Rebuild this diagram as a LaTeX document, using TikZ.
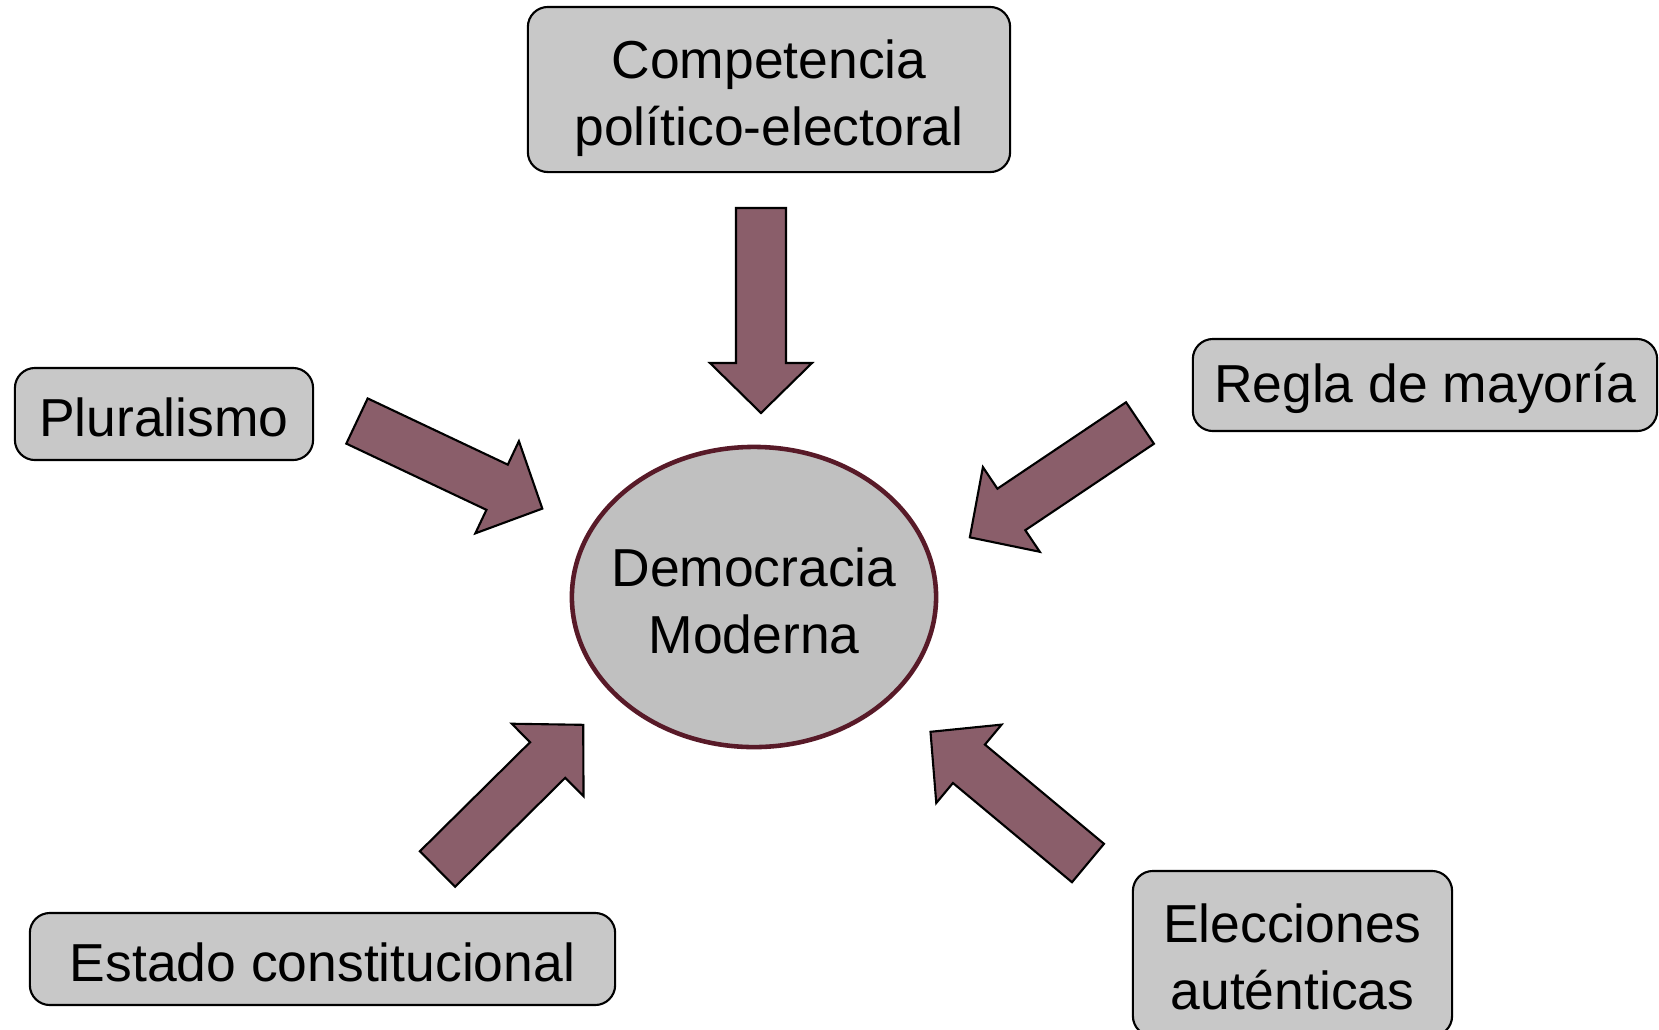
\documentclass[tikz,border=0pt]{standalone}
\usepackage{fontspec}
\setmainfont{Liberation Sans}
\usepackage{tikz}
\usetikzlibrary{shapes.geometric}

\definecolor{boxgray}{RGB}{200,200,200}
\definecolor{ellgray}{RGB}{192,192,192}
\definecolor{wine}{RGB}{88,26,40}
\definecolor{arrowfill}{RGB}{138,94,106}

% block arrow: tail coordinate, direction angle
\newcommand{\fatarrow}[2]{%
  \begin{scope}[shift={(#1)}, rotate=#2]
    \draw[fat_arrow] (0,-25) -- (155,-25) -- (155,-51) -- (205,0) -- (155,51) -- (155,25) -- (0,25) -- cycle;
  \end{scope}}

\begin{document}
\begin{tikzpicture}[x=0.01cm, y=-0.01cm,
  main_node/.style={ellipse,draw=wine,line width=1.3pt,fill=ellgray,inner sep=0pt,minimum width=3.64cm,minimum height=3cm},
  box_node/.style={rectangle,draw,line width=0.6pt,rounded corners=0.2cm,fill=boxgray,inner sep=0pt},
  box_text/.style={align=center,font=\fontsize{15.2}{19}\selectfont,yshift=-0.035cm},
  fat_arrow/.style={draw,line width=0.6pt,fill=arrowfill,line join=miter}]

    \useasboundingbox (0,0) rectangle (1659,1029);

    \node[main_node, label={[box_text]center:{Democracia\\Moderna}}] (1) at (754,597) {};
    \node[box_node, minimum width=4.82cm, minimum height=1.65cm, label={[box_text,yshift=-0.05cm]center:{Competencia\\político-electoral}}] (2) at (769,89.5) {};
    \node[box_node, minimum width=2.98cm, minimum height=0.92cm, label={[box_text]center:Pluralismo}] (3) at (164,414) {};
    \node[box_node, minimum width=4.64cm, minimum height=0.92cm, label={[box_text]center:{Regla de mayoría}}] (4) at (1425,385) {};
    \node[box_node, minimum width=3.19cm, minimum height=1.65cm, label={[box_text]center:{Elecciones\\auténticas}}] (5) at (1292.5,953.5) {};
    \node[box_node, minimum width=5.85cm, minimum height=0.92cm, label={[box_text]center:{Estado constitucional}}] (6) at (322.5,959) {};

    \coordinate (a2) at (761,208);
    \coordinate (a3) at (357,421);
    \coordinate (a4) at (1140,423);
    \coordinate (a5) at (1088,863);
    \coordinate (a6) at (437.5,869);

    \fatarrow{a2}{-90}
    \fatarrow{a3}{-25.3}
    \fatarrow{a4}{213.9}
    \fatarrow{a5}{140.2}
    \fatarrow{a6}{44.7}

\end{tikzpicture}
\end{document}
